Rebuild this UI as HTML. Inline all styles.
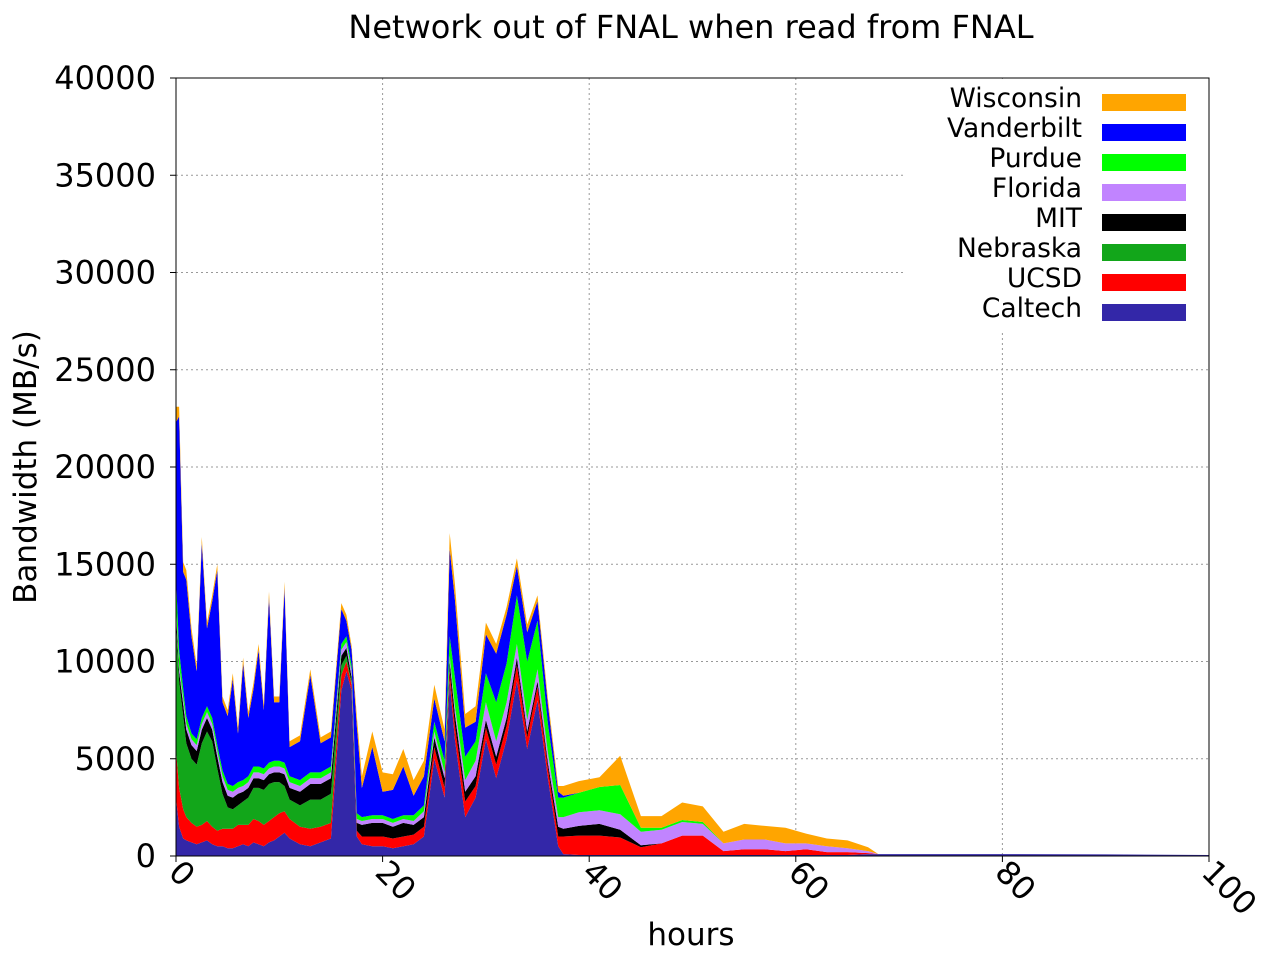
<!DOCTYPE html>
<html><head><meta charset="utf-8">
<style>
html,body{margin:0;padding:0;background:#fff;}
svg{display:block;font-family:"DejaVu Sans","Liberation Sans",sans-serif;}
</style></head>
<body>
<svg id="chart" width="1280" height="960" viewBox="0 0 1280 960">
<text x="691" y="38" font-size="32" text-anchor="middle">Network out of FNAL when read from FNAL</text>
<text transform="translate(36,467) rotate(-90)" font-size="31" text-anchor="middle">Bandwidth (MB/s)</text>
<text x="691" y="945" font-size="31" text-anchor="middle">hours</text>
<g id="grid"></g>
<g id="areas"></g>
<rect x="906" y="79" width="302" height="251" fill="#fff"/>
<g id="legend"></g>
<rect x="176" y="78" width="1033" height="778" fill="none" stroke="#000" stroke-width="1"/>
<g id="ticks"></g>
</svg>
<script>
const times=[0,0.3,0.7,1,1.5,2,2.5,3,3.5,4,4.5,5,5.5,6,6.5,7,7.5,8,8.5,9,9.5,10,10.5,11,12,13,14,15,16,16.5,17,17.5,18,19,20,21,22,23,24,25,26,26.5,27,28,29,30,31,32,33,34,35,36,37,37.5,39,41,43,45,47,49,51,53,55,57,59,61,63,65,67,68,80,90,100];
const caltech=[3000,1500,900,800,700,600,700,800,600,500,500,400,400,500,600,500,700,600,500,700,800,1000,1200,900,600,500,700,900,8500,9500,8500,1000,600,500,500,400,500,600,1000,5000,3000,9000,6000,2000,3000,6000,4000,6000,9000,5500,8000,4000,500,100,50,50,50,50,50,50,50,50,50,50,50,50,50,50,100,100,100,80,50];
const ucsd=[2500,2000,1500,1200,1000,900,900,1000,900,800,900,1000,1000,1100,1000,1100,1200,1200,1100,1100,1200,1200,1100,1000,900,900,800,800,800,500,300,300,400,500,500,500,500,500,500,600,500,500,700,800,600,600,700,700,800,600,700,500,500,900,1000,1000,900,400,600,1000,1000,200,300,300,200,300,150,150,50,0,0,0,0];
const nebraska=[6500,5500,4800,3800,3300,3200,4200,4600,4400,3200,1800,1100,1000,1000,1200,1400,1600,1700,1800,1900,1800,1600,1300,1000,1100,1500,1400,1500,500,300,100,0,0,0,0,0,0,0,0,0,0,0,0,0,0,0,0,0,0,0,0,0,0,0,0,0,0,0,0,0,0,0,0,0,0,0,0,0,0,0,0,0,0];
const mit=[500,500,600,700,700,700,700,700,600,600,600,600,600,600,500,500,500,500,500,500,500,500,600,600,700,800,800,800,500,400,300,400,600,700,700,600,700,500,500,500,500,500,600,500,500,400,400,400,400,300,300,300,500,400,500,600,400,100,0,0,0,0,0,0,0,0,0,0,0,0,0,0,0];
const florida=[300,300,300,300,300,300,300,300,300,300,300,300,300,300,300,300,300,300,300,300,300,300,300,300,300,300,300,300,300,300,300,200,200,200,200,200,200,200,300,300,300,300,400,600,800,900,800,800,700,600,600,500,500,600,700,700,800,700,700,700,600,400,500,500,400,300,300,200,100,0,0,0,0];
const purdue=[1500,800,500,400,300,300,300,300,300,300,300,300,300,300,300,300,300,300,300,300,300,300,300,300,300,300,300,300,300,300,300,300,200,200,200,200,200,300,300,500,600,1000,1500,1200,1000,1500,2000,2000,2500,3000,2500,1500,1000,1000,1000,1200,1500,200,100,100,100,0,0,0,0,0,0,0,0,0,0,0,0];
const vanderbilt=[8000,12000,6000,7000,5000,3500,9000,4000,6000,9000,3500,3500,5500,2500,6000,3000,4000,6000,3000,8500,3000,3000,9000,1500,2000,5000,1500,1500,1800,800,800,4500,1500,3500,1200,1500,2500,1000,1500,1200,1000,4500,4000,1500,1000,2000,2500,2500,1500,1500,1000,1000,300,100,0,0,0,0,0,0,0,0,0,0,0,0,0,0,0,0,0,0,0];
const wisconsin=[800,500,500,500,400,300,300,300,300,300,300,300,300,300,300,300,300,300,300,300,300,300,300,300,300,300,300,300,300,300,200,500,600,800,1000,800,900,800,800,700,600,800,800,700,800,600,500,400,400,400,300,300,300,500,600,500,1500,600,600,900,800,600,800,700,800,500,400,400,200,0,0,0,0];
const seriesNames=["Caltech","UCSD","Nebraska","MIT","Florida","Purdue","Vanderbilt","Wisconsin"];
const seriesData=[caltech,ucsd,nebraska,mit,florida,purdue,vanderbilt,wisconsin];
const colors=["#3327a8","#ff0000","#12a61a","#000000","#c184ff","#00ff00","#0000ff","#ffa500"];
const yTicks=[0,5000,10000,15000,20000,25000,30000,35000,40000];
const xTicks=[0,20,40,60,80,100];

const NS="http://www.w3.org/2000/svg";
const X0=176,X1=1209,Y0=856,Y1=78;
function xs(v){return X0+(v-0)/(100-0)*(X1-X0);}
function ys(v){return Y0-(v/40000)*(Y0-Y1);}
function mk(tag,attrs,parent){const e=document.createElementNS(NS,tag);for(const k in attrs)e.setAttribute(k,attrs[k]);parent.appendChild(e);return e;}

const grid=document.getElementById('grid');
const ticks=document.getElementById('ticks');
yTicks.forEach(t=>{
  if(t>0&&t<40000){
    const g=mk('line',{x1:X0,x2:X1,y1:ys(t),y2:ys(t),stroke:'#999','stroke-dasharray':'2,3','stroke-width':1},grid);
    
    
  }
  const tk=mk('line',{x1:X0-6,x2:X0,y1:ys(t),y2:ys(t),stroke:'#000'},ticks);
  
  
  const lb=mk('text',{x:156,y:ys(t)+11,'font-size':32,'text-anchor':'end'},ticks);
  lb.textContent=t;
  
  
});
xTicks.forEach(t=>{
  if(t>0&&t<100){
    const g=mk('line',{x1:xs(t),x2:xs(t),y1:Y1,y2:Y0,stroke:'#999','stroke-dasharray':'2,3','stroke-width':1},grid);
    
    
  }
  const tk=mk('line',{x1:xs(t),x2:xs(t),y1:Y0,y2:Y0+6,stroke:'#000'},ticks);
  
  
  const lb=mk('text',{x:0,y:0,'font-size':32,transform:'translate('+(xs(t)-9)+','+(Y0+18)+') rotate(45)'},ticks);
  lb.textContent=t;
  
  
});

const areas=document.getElementById('areas');
let base=times.map(()=>0);
seriesData.forEach((arr,si)=>{
  const top=arr.map((v,i)=>base[i]+v);
  let d='M'+xs(times[0])+','+ys(top[0]);
  for(let i=1;i<times.length;i++)d+=' L'+xs(times[i]).toFixed(1)+','+ys(top[i]).toFixed(1);
  for(let i=times.length-1;i>=0;i--)d+=' L'+xs(times[i]).toFixed(1)+','+ys(base[i]).toFixed(1);
  d+='Z';
  const p=mk('path',{d:d,fill:colors[si],stroke:'none'},areas);
  
  
  base=top;
});

const legend=document.getElementById('legend');
for(let i=seriesNames.length-1,r=0;i>=0;i--,r++){
  const cy=102+r*30;
  const t=mk('text',{x:1082,y:cy+5,'font-size':26.5,'text-anchor':'end'},legend);
  t.textContent=seriesNames[i];
  
  
  const s=mk('rect',{x:1102,y:cy-8,width:84,height:17,fill:colors[i]},legend);
  
  
}
</script>
</body></html>
